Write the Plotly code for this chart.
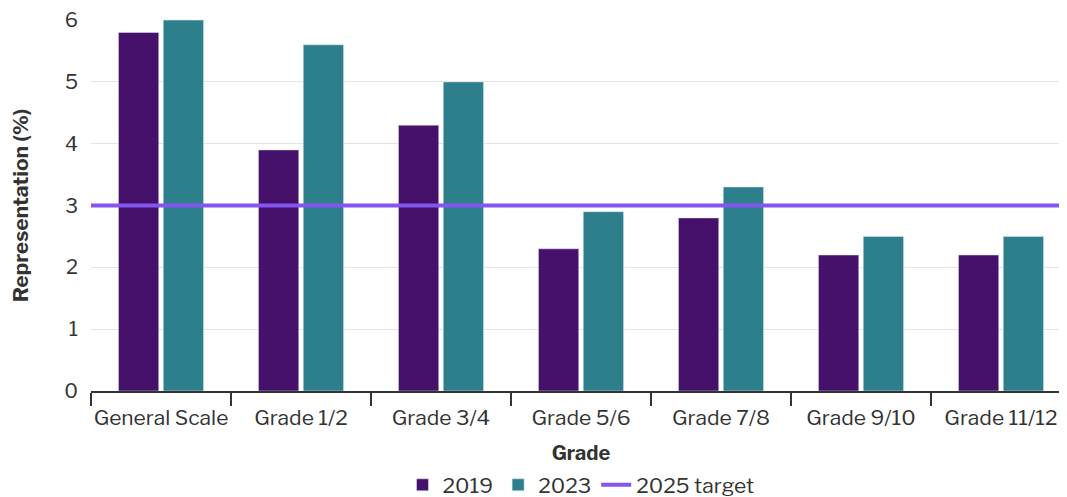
"""Representation by grade, 2019 vs 2023, with 2025 target."""
import plotly.graph_objects as go

grades = ["General Scale", "Grade 1/2", "Grade 3/4", "Grade 5/6",
          "Grade 7/8", "Grade 9/10", "Grade 11/12"]
rep_2019 = [5.8, 3.9, 4.3, 2.3, 2.8, 2.2, 2.2]
rep_2023 = [6.0, 5.6, 5.0, 2.9, 3.3, 2.5, 2.5]
target_2025 = 3

TEXT = "#333333"
FONT = "Libre Franklin, Inter, Roboto, sans-serif"

fig = go.Figure()
fig.add_trace(go.Bar(x=grades, y=rep_2019, name="2019", marker_color="#46116b"))
fig.add_trace(go.Bar(x=grades, y=rep_2023, name="2023", marker_color="#2e7f8c"))
# legend entry for the target line (drawn as a shape below)
fig.add_trace(go.Scatter(x=[None], y=[None], mode="lines", name="2025 target",
                         line=dict(color="#8455ef", width=4)))
fig.add_hline(y=target_2025, line=dict(color="#8455ef", width=4), layer="above")

# page body adds an 8px offset, so margins are shifted accordingly
fig.update_layout(
    width=1067, height=497,
    margin=dict(l=83, r=4, t=12, b=114, autoexpand=False),
    plot_bgcolor="white", paper_bgcolor="white",
    font=dict(family=FONT, size=21, color=TEXT),
    barmode="group", bargap=0.36, bargroupgap=0.1,
    xaxis=dict(
        title=dict(text="<b>Grade</b>", font=dict(size=20), standoff=18),
        showline=True, linecolor=TEXT, linewidth=2, automargin=False,
        ticks="outside", tickson="boundaries", ticklen=13, tickwidth=2,
        tickcolor=TEXT, showgrid=False, tickangle=0, ticklabelstandoff=7,
    ),
    yaxis=dict(
        title=dict(text="<b>Representation (%)</b>", font=dict(size=21), standoff=29),
        range=[0, 6.001], tickvals=[0, 1, 2, 3, 4, 5, 6], gridcolor="#e3e5e5",
        gridwidth=1, automargin=False, ticklabeloverflow="allow",
        tickfont=dict(size=20),
        zeroline=False, showline=False, ticks="", ticklabelstandoff=12,
    ),
    legend=dict(orientation="h", x=0.5, xanchor="center", yref="container",
                y=0.04, yanchor="middle", font=dict(size=21), itemwidth=30,
                traceorder="normal"),
)

fig.write_html("out.html")
